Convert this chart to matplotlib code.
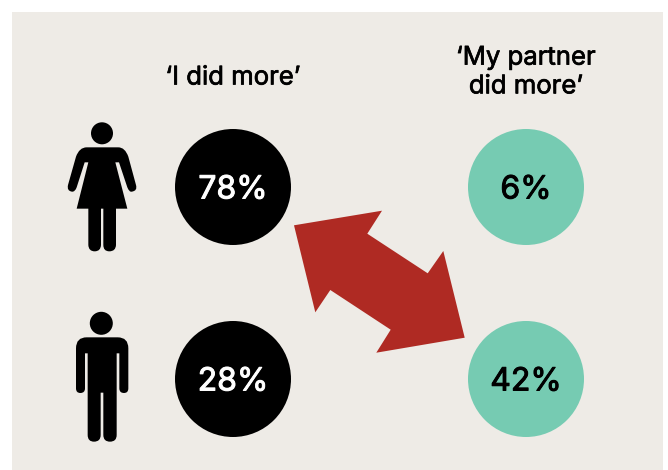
import matplotlib
matplotlib.use('Agg')
import matplotlib.pyplot as plt
from matplotlib.path import Path
from matplotlib.patches import PathPatch, Polygon, Rectangle, Circle
import matplotlib.patheffects as pe

plt.rcParams['font.family'] = ['Inter', 'DejaVu Sans']

# values
columns = ['\u2018I did more\u2019', '\u2018My partner\ndid more\u2019']
groups = ['women', 'men']
i_did_more = [78, 28]
partner_did_more = [6, 42]

BG = '#EEEBE6'
TEAL = '#76CBB2'
RED = '#AF2A23'

col_x = [233, 526]
row_y = [187, 379]
title_y = [78, 72.5]
circle_d = 116


def outline(start, segs, dx, dy):
    # segs: (x, y) is a straight line, (cx, cy, x, y) a curve. Zoomed-crop units (3x)
    verts = [start]
    codes = [Path.MOVETO]
    for s in segs:
        if len(s) == 2:
            verts.append(s)
            codes.append(Path.LINETO)
        else:
            verts += [(s[0], s[1]), (s[2], s[3])]
            codes += [Path.CURVE3, Path.CURVE3]
    verts.append(start)
    codes.append(Path.CLOSEPOLY)
    return Path([(x / 3 + dx, y / 3 + dy) for x, y in verts], codes)


woman = [(205, 112), (225, 112, 235, 140), (258, 225), (263, 243, 245, 245),
         (238, 247, 232, 232), (207, 157), (196, 157), (232, 296), (198, 296),
         (198, 405), (197, 424, 178, 424), (160, 424, 160, 405), (160, 296), (153, 296),
         (153, 405), (152, 424, 134, 424), (116, 424, 115, 405), (115, 296), (80, 296),
         (115, 157), (104, 157), (80, 232), (75, 246, 66, 245), (50, 243, 54, 225),
         (78, 140), (88, 112, 110, 112)]
man = [(203, 112), (235, 112, 235, 145), (235, 265), (235, 279, 222, 279),
       (208, 279, 208, 265), (208, 160), (200, 160), (200, 405), (200, 425, 180, 425),
       (160, 425, 160, 405), (160, 278), (152, 278), (152, 405), (152, 425, 132, 425),
       (113, 425, 113, 405), (113, 160), (105, 160), (105, 265), (105, 279, 91, 279),
       (78, 279, 78, 265), (78, 145), (78, 112, 110, 112)]

arrow = [(294, 225.3), (382, 210.7), (367.3, 233.7), (427.7, 273.3), (443.3, 251),
         (464.7, 337.7), (376.3, 352.7), (390.7, 329.7), (330.3, 290), (315.3, 312.3)]

fig = plt.figure(figsize=(6.68, 4.70), dpi=100)
ax = fig.add_axes([0, 0, 1, 1])
ax.set_xlim(0, 668)
ax.set_ylim(470, 0)
ax.axis('off')

ax.add_patch(Rectangle((12, 12), 651, 458, color=BG, lw=0))

for x, y, label in zip(col_x, title_y, columns):
    t = ax.text(x, y, label, ha='center', va='center', fontsize=18.5,
                color='black', linespacing=1.32)
    t.set_path_effects([pe.withStroke(linewidth=0.5, foreground='black')])

for i, group in enumerate(groups):
    for x, val, c, tc in [(col_x[0], i_did_more[i], 'black', 'white'),
                          (col_x[1], partner_did_more[i], TEAL, 'black')]:
        ax.add_patch(Circle((x, row_y[i]), circle_d / 2, color=c, lw=0, zorder=2))
        t = ax.text(x, row_y[i] + 3, f'{val}%', ha='center', va='center', fontsize=23,
                    color=tc, zorder=3)
        t.set_path_effects([pe.withStroke(linewidth=0.7, foreground=tc)])

ax.add_patch(Polygon(arrow, closed=True, color=RED, lw=0, zorder=4))

ax.add_patch(Circle((102, 133.3), 11, color='black', lw=0))
ax.add_patch(PathPatch(outline((110, 112), woman, 50, 110), color='black', lw=0))
ax.add_patch(Circle((101.3, 323.3), 11.5, color='black', lw=0))
ax.add_patch(PathPatch(outline((110, 112), man, 50, 300), color='black', lw=0))

fig.savefig('out.png', dpi=100)
